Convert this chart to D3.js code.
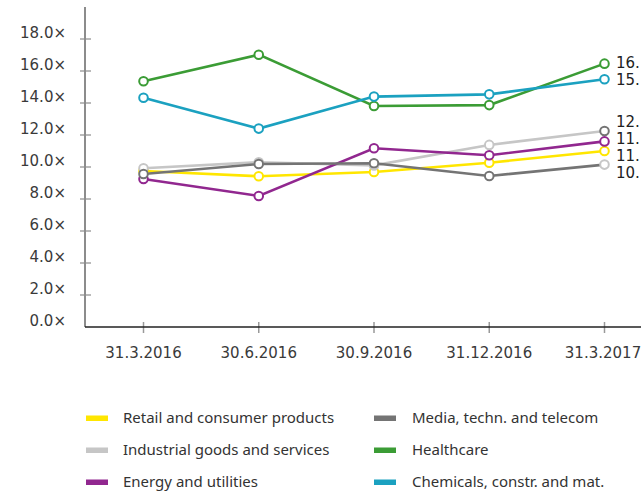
<!DOCTYPE html>
<html>
<head>
<meta charset="utf-8">
<script src="https://cdn.jsdelivr.net/npm/d3@7"></script>
<style>
  body { margin: 0; background: #fff; }
  svg { display: block; }
</style>
</head>
<body>
<script>
// Valuation multiples by sector, quarter ends

const dates = ["31.3.2016", "30.6.2016", "30.9.2016", "31.12.2016", "31.3.2017"];
const seriesNames = [
  "Retail and consumer products",
  "Industrial goods and services",
  "Energy and utilities",
  "Media, techn. and telecom",
  "Healthcare",
  "Chemicals, constr. and mat."
];
const seriesColors = ["#ffe600", "#c6c6c6", "#91278f", "#747474", "#3b9c35", "#1ba1c0"];

const retail     = [9.75, 9.42, 9.69, 10.27, 11.0];
const industrial = [9.92, 10.3, 10.1, 11.38, 12.25];
const energy     = [9.25, 8.19, 11.17, 10.73, 11.6];
const media      = [9.56, 10.19, 10.23, 9.44, 10.15];
const healthcare = [15.36, 17.02, 13.81, 13.87, 16.46];
const chemicals  = [14.33, 12.4, 14.4, 14.54, 15.48];

const yTicks = [0, 2, 4, 6, 8, 10, 12, 14, 16, 18];

// in the original the last markers of the two grey series have swapped colours
const lastMarkerColor = [0, 3, 2, 1, 4, 5];

const values = [retail, industrial, energy, media, healthcare, chemicals];
const series = seriesNames.map((name, i) => ({ name, color: seriesColors[i], values: values[i], idx: i }));

const width = 641, height = 495;
const svg = d3.select("body").append("svg")
  .attr("width", width)
  .attr("height", height);

const x = d3.scalePoint().domain(dates).range([143.5, 604.5]);
const y = d3.scaleLinear().domain([0, 20]).range([327, 7]);

const axisFont = "'DejaVu Sans', Verdana, sans-serif";
const axisSize = 15;

// y axis
svg.append("line")
  .attr("x1", 85).attr("x2", 85)
  .attr("y1", y(20)).attr("y2", y(0))
  .attr("stroke", "#8c8c8c").attr("stroke-width", 2);

const yg = svg.append("g");
yg.selectAll("line").data(yTicks.filter(d => d > 0)).enter().append("line")
  .attr("x1", 80).attr("x2", 91)
  .attr("y1", d => y(d)).attr("y2", d => y(d))
  .attr("stroke", "#8c8c8c").attr("stroke-width", 1.2);
yg.selectAll("text").data(yTicks).enter().append("text")
  .attr("x", 66)
  .attr("y", d => y(d) - 6)
  .attr("dy", "0.36em")
  .attr("text-anchor", "end")
  .attr("font-family", axisFont)
  .attr("font-size", axisSize)
  .attr("fill", "#3a3a3a")
  .text(d => d.toFixed(1) + "×");

// x axis
const xg = svg.append("g");
xg.selectAll("line").data(dates).enter().append("line")
  .attr("x1", d => x(d)).attr("x2", d => x(d))
  .attr("y1", y(0) - 5).attr("y2", y(0) + 6)
  .attr("stroke", "#999").attr("stroke-width", 1.5);
svg.append("line")
  .attr("x1", 85).attr("x2", width)
  .attr("y1", y(0)).attr("y2", y(0))
  .attr("stroke", "#222").attr("stroke-width", 1.5);
xg.selectAll("text").data(dates).enter().append("text")
  .attr("x", (d, i) => i === dates.length - 1 ? Math.min(x(d), 641 - 38) : x(d))
  .attr("y", 353)
  .attr("dy", "0.36em")
  .attr("text-anchor", "middle")
  .attr("font-family", axisFont)
  .attr("font-size", axisSize)
  .attr("fill", "#3a3a3a")
  .text(d => d);

// lines
const line = d3.line()
  .x((d, i) => x(dates[i]))
  .y(d => y(d));

svg.append("g").selectAll("path").data(series).enter().append("path")
  .attr("d", d => line(d.values))
  .attr("fill", "none")
  .attr("stroke", d => d.color)
  .attr("stroke-width", 2.6);

// markers
series.forEach(s => {
  svg.append("g").selectAll("circle").data(s.values).enter().append("circle")
    .attr("cx", (d, i) => x(dates[i]))
    .attr("cy", d => y(d))
    .attr("r", 4.3)
    .attr("fill", "#fff")
    .attr("stroke", (d, i) => i === dates.length - 1 ? seriesColors[lastMarkerColor[s.idx]] : s.color)
    .attr("stroke-width", 2);
});

// end labels, spread so they don't overlap (only the integer part fits, as in the original)
const last = dates.length - 1;
let labels = series.map(s => ({ v: s.values[last], target: y(s.values[last]) }))
  .sort((a, b) => a.target - b.target);
const gap = 16.8;
let clusters = labels.map(l => ({ items: [l], mean: l.target }));
let merged = true;
while (merged) {
  merged = false;
  for (let i = 0; i < clusters.length - 1; i++) {
    const a = clusters[i], b = clusters[i + 1];
    const aEnd = a.mean + (a.items.length - 1) * gap / 2;
    const bStart = b.mean - (b.items.length - 1) * gap / 2;
    if (bStart - aEnd < gap) {
      const items = a.items.concat(b.items);
      clusters.splice(i, 2, { items, mean: d3.mean(items, d => d.target) });
      merged = true;
      break;
    }
  }
}
clusters.forEach(c => {
  c.items.forEach((l, j) => { l.pos = c.mean + (j - (c.items.length - 1) / 2) * gap; });
});

svg.append("g").selectAll("text").data(labels).enter().append("text")
  .attr("x", 616)
  .attr("y", d => d.pos)
  .attr("dy", "0.36em")
  .attr("font-family", axisFont)
  .attr("font-size", axisSize)
  .attr("fill", "#222")
  .text(d => Math.floor(d.v) + ".");

// legend
const legendFont = "'Noto Sans', 'Open Sans', sans-serif";
const lg = svg.append("g");
const item = lg.selectAll("g").data(series).enter().append("g")
  .attr("transform", (d, i) => `translate(${i < 3 ? 86 : 374},${418 + (i % 3) * 32})`);
item.append("rect")
  .attr("x", 0).attr("y", -2.5)
  .attr("width", 22).attr("height", 5.5)
  .attr("fill", d => d.color);
item.append("text")
  .attr("x", d => d.idx < 3 ? 37 : 38)
  .attr("y", 0)
  .attr("dy", "0.35em")
  .attr("font-family", legendFont)
  .attr("font-size", 15)
  .attr("fill", "#333")
  .text(d => d.name);
</script>
</body>
</html>
